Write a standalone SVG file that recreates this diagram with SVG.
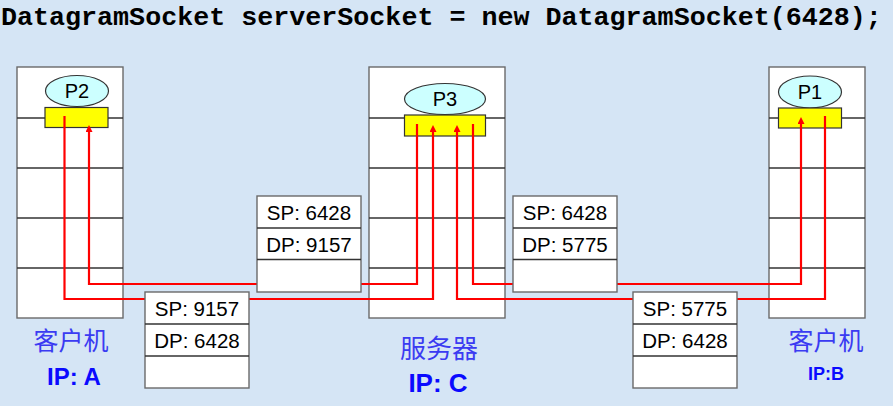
<svg xmlns="http://www.w3.org/2000/svg" width="893" height="406" viewBox="0 0 893 406">
<defs>
<style>
.bg{fill:#d5e5f5}
.host{fill:#ffffff;stroke:#6a6a6a;stroke-width:1.4}
.hl{stroke:#333333;stroke-width:1.4}
.proc{fill:#ccffff;stroke:#333333;stroke-width:1.2}
.sock{fill:#ffff00;stroke:#333333;stroke-width:1.2}
.ptxt{font-family:"Liberation Sans",Arial,sans-serif;font-size:20px;fill:#000;text-anchor:middle}
.hdr{fill:#ffffff;stroke:#6a6a6a;stroke-width:1.4}
.htxt{font-family:"Liberation Sans",Arial,sans-serif;font-size:20.5px;fill:#000;text-anchor:middle}
.wire{fill:none;stroke:#ff0000;stroke-width:2.2}
.cn{font-family:"Liberation Sans","Noto Sans CJK SC",sans-serif;fill:#3b3bf2;text-anchor:middle}
.ip{font-family:"Liberation Sans",Arial,sans-serif;font-weight:bold;fill:#0a0aff;text-anchor:middle}
.code{font-family:"Liberation Mono","Courier New",monospace;font-weight:bold;font-size:26.7px;fill:#000}
</style>
<marker id="arr" viewBox="0 0 10 10" refX="0" refY="5" markerWidth="7" markerHeight="7" markerUnits="userSpaceOnUse" orient="auto">
<path d="M0,0 L10,5 L0,10 z" fill="#ff0000"/>
</marker>
</defs>
<rect class="bg" x="0" y="0" width="893" height="406"/>
<text class="code" x="1" y="25">DatagramSocket serverSocket = new DatagramSocket(6428);</text>

<g id="hostA">
<rect class="host" x="17" y="67" width="106" height="251"/>
<line class="hl" x1="17" y1="118" x2="123" y2="118"/>
<line class="hl" x1="17" y1="168" x2="123" y2="168"/>
<line class="hl" x1="17" y1="218" x2="123" y2="218"/>
<line class="hl" x1="17" y1="268" x2="123" y2="268"/>
<ellipse class="proc" cx="77" cy="91" rx="31.5" ry="15.5"/>
<text class="ptxt" x="77" y="98">P2</text>
<rect class="sock" x="45" y="107.5" width="63" height="20"/>
</g>

<g id="hostC">
<rect class="host" x="369" y="67" width="136" height="251"/>
<line class="hl" x1="369" y1="118" x2="505" y2="118"/>
<line class="hl" x1="369" y1="168" x2="505" y2="168"/>
<line class="hl" x1="369" y1="218" x2="505" y2="218"/>
<line class="hl" x1="369" y1="268" x2="505" y2="268"/>
<ellipse class="proc" cx="445" cy="99" rx="40.5" ry="15.5"/>
<text class="ptxt" x="445" y="106">P3</text>
<rect class="sock" x="404.5" y="115" width="81" height="21"/>
</g>

<g id="hostB">
<rect class="host" x="769" y="67" width="96" height="251"/>
<line class="hl" x1="769" y1="118" x2="865" y2="118"/>
<line class="hl" x1="769" y1="168" x2="865" y2="168"/>
<line class="hl" x1="769" y1="218" x2="865" y2="218"/>
<line class="hl" x1="769" y1="268" x2="865" y2="268"/>
<ellipse class="proc" cx="810" cy="92" rx="31.5" ry="16"/>
<text class="ptxt" x="810" y="99">P1</text>
<rect class="sock" x="778.5" y="108" width="63" height="20"/>
</g>

<g id="connectors">
<path class="wire" d="M64.5 116 V299 H433 V132" marker-end="url(#arr)"/>
<path class="wire" d="M417 124 V284 H89 V132" marker-end="url(#arr)"/>
<path class="wire" d="M473 124 V284 H801 V124" marker-end="url(#arr)"/>
<path class="wire" d="M825 116 V299 H457 V132" marker-end="url(#arr)"/>
</g>

<g id="pktCA">
<rect class="hdr" x="257" y="196" width="104" height="96"/>
<line class="hl" x1="257" y1="228" x2="361" y2="228"/>
<line class="hl" x1="257" y1="259.5" x2="361" y2="259.5"/>
<text class="htxt" x="309" y="220">SP: 6428</text>
<text class="htxt" x="309" y="252">DP: 9157</text>
</g>

<g id="pktAC">
<rect class="hdr" x="145" y="292" width="104" height="96"/>
<line class="hl" x1="145" y1="324" x2="249" y2="324"/>
<line class="hl" x1="145" y1="356" x2="249" y2="356"/>
<text class="htxt" x="197" y="316">SP: 9157</text>
<text class="htxt" x="197" y="348">DP: 6428</text>
</g>

<g id="pktCB">
<rect class="hdr" x="513" y="196" width="104" height="96"/>
<line class="hl" x1="513" y1="228" x2="617" y2="228"/>
<line class="hl" x1="513" y1="259.5" x2="617" y2="259.5"/>
<text class="htxt" x="565" y="220">SP: 6428</text>
<text class="htxt" x="565" y="252">DP: 5775</text>
</g>

<g id="pktBC">
<rect class="hdr" x="633" y="292" width="104" height="96"/>
<line class="hl" x1="633" y1="324" x2="737" y2="324"/>
<line class="hl" x1="633" y1="356" x2="737" y2="356"/>
<text class="htxt" x="685" y="316">SP: 5775</text>
<text class="htxt" x="685" y="348">DP: 6428</text>
</g>

<g id="labelA">
<text class="cn" x="71" y="350" font-size="25">客户机</text>
<text class="ip" x="74" y="385" font-size="24">IP: A</text>
</g>
<g id="labelC">
<text class="cn" x="439" y="358" font-size="26">服务器</text>
<text class="ip" x="438" y="392" font-size="26">IP: C</text>
</g>
<g id="labelB">
<text class="cn" x="826" y="350" font-size="25">客户机</text>
<text class="ip" x="826" y="380" style="font-size:18px">IP:B</text>
</g>
</svg>
